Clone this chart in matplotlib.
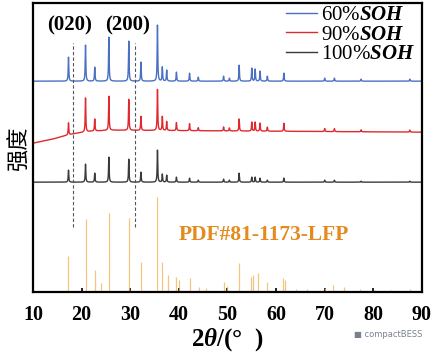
import numpy as np
import matplotlib.pyplot as plt

plt.rcParams['font.family'] = ['Liberation Serif', 'Noto Sans CJK SC']
plt.rcParams['mathtext.fontset'] = 'custom'
plt.rcParams['mathtext.rm'] = 'Liberation Serif:bold'
plt.rcParams['mathtext.it'] = 'Liberation Serif:bold:italic'
plt.rcParams['mathtext.bf'] = 'Liberation Serif:bold'
plt.rcParams['mathtext.bfit'] = 'Liberation Serif:bold:italic'

# peak positions (2theta) shared by the three measured patterns
peak_pos = [17.3, 20.8, 22.7, 25.6, 29.7, 32.2, 35.6, 36.6, 37.5, 39.5, 42.2,
            44.0, 49.2, 50.4, 52.4, 55.0, 55.7, 56.7, 58.2, 61.6, 70.0, 72.0, 77.5, 87.5]
# peak heights
soh60_h = [24, 36, 14, 44, 40, 19, 56, 14, 11, 9, 8, 4, 5, 3, 16, 13, 12, 10, 5, 8, 3, 3, 2, 2]
soh90_h = [12, 34, 12, 34, 31, 14, 41, 14, 9, 8, 7, 3, 4, 3, 12, 9, 9, 8, 4, 8, 3, 3, 2, 2]
soh100_h = [12, 18, 9, 25, 23, 10, 32, 8, 7, 5, 4, 2, 3, 2, 9, 5, 5, 4, 2, 4, 2, 2, 1, 1]

# red pattern background (rises at low angle)
bg90_x = [10, 14, 17, 19, 22, 26, 90]
bg90_y = [0, 4, 8, 10, 12, 13, 11]

# reference pattern PDF#81-1173 sticks
ref_pos = [17.2, 20.8, 22.7, 23.9, 25.6, 29.7, 32.2, 35.6, 36.5, 37.7, 39.5, 40.0,
           42.2, 44.1, 45.6, 49.2, 50.0, 52.4, 54.8, 55.3, 56.3, 58.1, 61.4, 61.9,
           64.0, 66.3, 70.1, 71.8, 73.9, 77.3, 80.3, 83.7, 87.5]
ref_h = [36, 73, 22, 9, 79, 74, 30, 95, 30, 17, 15, 12,
         14, 5, 4, 10, 6, 29, 15, 17, 19, 10, 14, 12,
         3, 3, 4, 7, 5, 3, 2, 2, 3]

labels = ['60%$\\mathbfit{SOH}$', '90%$\\mathbfit{SOH}$', '100%$\\mathbfit{SOH}$']
colors = ['#4a70c2', '#e0292e', '#3a3a3a']
offsets = [211, 149, 110]

x = np.arange(10, 90.001, 0.02)


def pattern(heights, base):
    y = np.zeros_like(x) + base
    g = 0.07
    for p, h in zip(peak_pos, heights):
        y += h * g**2 / ((x - p)**2 + g**2)
    return y


fig = plt.figure(figsize=(4.36, 3.52), dpi=100)
ax = fig.add_axes([0.0757, 0.170, 0.892, 0.821])

bg90 = np.interp(x, bg90_x, bg90_y)
series = [pattern(soh60_h, 0), pattern(soh90_h, 0) + bg90, pattern(soh100_h, 0)]
for s, c, lab, off in zip(series, colors, labels, offsets):
    ax.plot(x, s + off, color=c, lw=1.0, label=lab)

ax.vlines(ref_pos, 0, ref_h, color='#f0b860', lw=0.9, alpha=0.8)

ax.vlines([18.2, 31.0], 65, 249, color='#555555', lw=0.8, linestyles=(0, (3, 2)))
ax.text(17.6, 267, '(020)', ha='center', va='center', fontsize=15, fontweight='bold')
ax.text(29.4, 267, '(200)', ha='center', va='center', fontsize=15, fontweight='bold')
ax.text(57.5, 57, 'PDF#81-1173-LFP', ha='center', va='center', fontsize=15.5,
        fontweight='bold', color='#e58a1f')

leg = ax.legend(loc='upper right', bbox_to_anchor=(1.015, 1.035), frameon=False,
                fontsize=15, handlelength=1.5, handletextpad=0.2, labelspacing=0.0,
                borderaxespad=0.2)

ax.set_xlim(10, 90)
ax.set_ylim(0, 289)
ax.set_yticks([])
ax.set_xticks(range(10, 91, 10))
ax.tick_params(axis='x', direction='in', length=3, width=1.2, labelsize=14.5, pad=9)
for t in ax.get_xticklabels():
    t.set_fontweight('bold')
for sp in ax.spines.values():
    sp.set_linewidth(1.6)

ax.set_xlabel('2$\\mathbfit{\\theta}$/(°  )', fontsize=18, fontweight='bold', labelpad=1)
ax.set_ylabel('强度', fontsize=16, family=['Noto Sans CJK SC'], labelpad=2)

fig.text(0.89, 0.05, '■ compactBESS', fontsize=6, color='#7a8090', ha='center',
         va='center', family=['DejaVu Sans'])

fig.savefig('out.png', dpi=100)
